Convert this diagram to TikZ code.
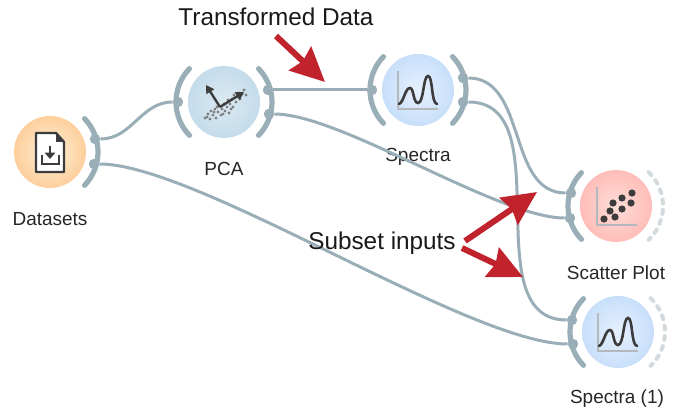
\documentclass[tikz,border=0pt]{standalone}
\usepackage{fontspec}
\setmainfont{Liberation Sans}
\usetikzlibrary{arrows.meta}
\definecolor{wirecol}{HTML}{9AAEB8}
\definecolor{idlecol}{HTML}{D2DADE}
\definecolor{iconcol}{HTML}{3C3C3C}
\definecolor{axiscol}{HTML}{B4B8BC}
\definecolor{calloutcol}{HTML}{C0232C}
\definecolor{orangein}{HTML}{FFF0DA}
\definecolor{orangeout}{HTML}{FDCF9C}
\definecolor{tealin}{HTML}{DCE9F2}
\definecolor{tealout}{HTML}{C4DCEB}
\definecolor{bluein}{HTML}{E6F0FE}
\definecolor{blueout}{HTML}{C8DFFA}
\definecolor{redin}{HTML}{FFDDD8}
\definecolor{redout}{HTML}{FFBDB8}
\tikzset{
  widget/.style 2 args={circle,minimum size=18mm,inner sep=0pt,inner color=#1,outer color=#2},
  port/.style={circle,fill=wirecol,minimum size=2.6mm,inner sep=0pt},
  wire/.style={draw=wirecol,line width=.75mm},
  channel/.style={draw=wirecol,line width=1.3mm,line cap=round},
  idle/.style={draw=idlecol,line width=1mm,line cap=round,dash pattern=on 1mm off 1.6mm},
  caption/.style={text=black!85,font=\fontsize{13.5}{15}\selectfont},
  callout/.style={text=black!90,font=\fontsize{17.3}{20}\selectfont},
  redarrow/.style={draw=calloutcol,line width=1.5mm,-{Stealth[inset=.9mm,length=8.5mm,width=8mm]}},
  spectra icon/.pic={
    \draw [axiscol,line width=.5mm] (-20,-19) -- (-20,19) -- (20,19);
    \draw [iconcol,line width=.65mm,line cap=round]
      (-19,14) .. controls (-14,12) and (-13,-2) .. (-8,-2)
      .. controls (-4,-2) and (-5,13) .. (0,13)
      .. controls (6,13) and (5,-14) .. (10,-14)
      .. controls (15,-14) and (13,13) .. (19,14);
  }
}
\begin{document}
\begin{tikzpicture}[x=.25mm,y=-.25mm]
      \useasboundingbox (0,0) rectangle (674,412);

      % widgets
      \node [widget={orangein}{orangeout}] (datasets) at (50,152) {};
      \node [widget={tealin}{tealout}] (pca) at (224,102) {};
      \node [widget={bluein}{blueout}] (spectra) at (418,90) {};
      \node [widget={redin}{redout}] (scatter) at (616,206) {};
      \node [widget={bluein}{blueout}] (spectraone) at (618,332) {};

      \node [caption] (datasetslabel) at (50,219) {Datasets};
      \node [caption] (pcalabel) at (224,169) {PCA};
      \node [caption] (spectralabel) at (418,157) {Spectra};
      \node [caption] (scatterlabel) at (616,273) {Scatter Plot};
      \node [caption] (spectraonelabel) at (617,399) {Spectra (1)};

      % channel arcs
      \draw [channel] (datasets.center) ++(-44:48) arc (-44:44:48);
      \draw [channel] (pca.center) ++(136:48) arc (136:224:48);
      \draw [channel] (pca.center) ++(-44:48) arc (-44:44:48);
      \draw [channel] (spectra.center) ++(136:48) arc (136:224:48);
      \draw [channel] (spectra.center) ++(-44:48) arc (-44:44:48);
      \draw [channel] (scatter.center) ++(136:48) arc (136:224:48);
      \draw [channel] (spectraone.center) ++(136:48) arc (136:224:48);
      \draw [idle] (scatter.center) ++(-46:47) arc (-46:46:47);
      \draw [idle] (spectraone.center) ++(-46:47) arc (-46:46:47);

      % ports
      \node [port] (datasetsA) at (95,139) {};
      \node [port] (datasetsB) at (94,164) {};
      \node [port] (pcaIn) at (178,102) {};
      \node [port] (pcaA) at (268,90) {};
      \node [port] (pcaB) at (269,114) {};
      \node [port] (spectraIn) at (372,90) {};
      \node [port] (spectraA) at (463,78) {};
      \node [port] (spectraB) at (463,102) {};
      \node [port] (scatterA) at (571,193) {};
      \node [port] (scatterB) at (570,218) {};
      \node [port] (spectraoneA) at (572,320) {};
      \node [port] (spectraoneB) at (573,344) {};

      % links
      \draw [wire] (datasetsA) to [out=0,in=180] (pcaIn);
      \draw [wire] (datasetsB) to [out=0,in=180,looseness=.5] (spectraoneB);
      \draw [wire] (pcaA)      to (spectraIn);
      \draw [wire] (pcaB)      to [out=0,in=180,looseness=.55] (scatterB);
      \draw [wire] (spectraA)  to [out=0,in=180] (scatterA);
      \draw [wire] (spectraB)  to [out=0,in=180] (spectraoneA);

      % Datasets icon
      \begin{scope}[shift={(datasets.center)}]
        \draw [iconcol,fill=white,line width=.6mm,line join=round] (-14,-19) -- (6,-19) -- (14,-10) -- (14,20) -- (-14,20) -- cycle;
        \fill [iconcol] (6,-19) -- (14,-10) -- (6,-10) -- cycle;
        \draw [iconcol,line width=.6mm] (-8,3) -- (-8,12) -- (9,12) -- (9,3);
        \draw [iconcol,line width=.6mm,-{Triangle[length=1.6mm,width=2.6mm]}] (0,-6) -- (0,7);
      \end{scope}

      % PCA icon
      \begin{scope}[shift={(pca.center)}]
        \foreach \dotx/\doty in {-19/16,-16/12,-14/17,-13/9,-11/13,-9/7,-8/16,-6/10,-5/4,-3/13,-2/7,0/2,1/9,3/5,4/-2,5/11,6/2,8/-3,9/5,10/-7,12/0,13/-5,15/-9,16/-3,18/-8,20/-12,22/-7,-17/15,-10/10,-7/5,-1/12,7/7}
          \fill [black!50] (\dotx,\doty) circle (1.6);
        \draw [iconcol,line width=.6mm,-{Triangle[length=2mm,width=2.2mm]}] (-4,5) -- (-18,-17);
        \draw [iconcol,line width=.6mm,-{Triangle[length=2mm,width=2.2mm]}] (-4,5) -- (20,-10);
      \end{scope}

      % spectra icons
      \pic at (spectra.center) {spectra icon};
      \pic at (spectraone.center) {spectra icon};

      % Scatter Plot icon
      \begin{scope}[shift={(scatter.center)}]
        \draw [axiscol,line width=.5mm] (-19,-19) -- (-19,19) -- (21,19);
        \foreach \dotx/\doty in {-12/13,-6/5,-1/11,-3/-3,6/-8,6/3,15/-3,16/-13}
          \fill [iconcol] (\dotx,\doty) circle (3.6);
      \end{scope}

      % annotations
      \node [callout] (transformed) at (276,17) {Transformed Data};
      \node [callout] (subset) at (382,243) {Subset inputs};
      \coordinate (transformedTail) at (276,36);
      \coordinate (transformedTip) at (325,82);
      \coordinate (subsetTailA) at (465,241);
      \coordinate (subsetTipA) at (537,192);
      \coordinate (subsetTailB) at (462,248);
      \coordinate (subsetTipB) at (523,277);
      \draw [redarrow] (transformedTail) to (transformedTip);
      \draw [redarrow] (subsetTailA) to (subsetTipA);
      \draw [redarrow] (subsetTailB) to (subsetTipB);
\end{tikzpicture}
\end{document}
